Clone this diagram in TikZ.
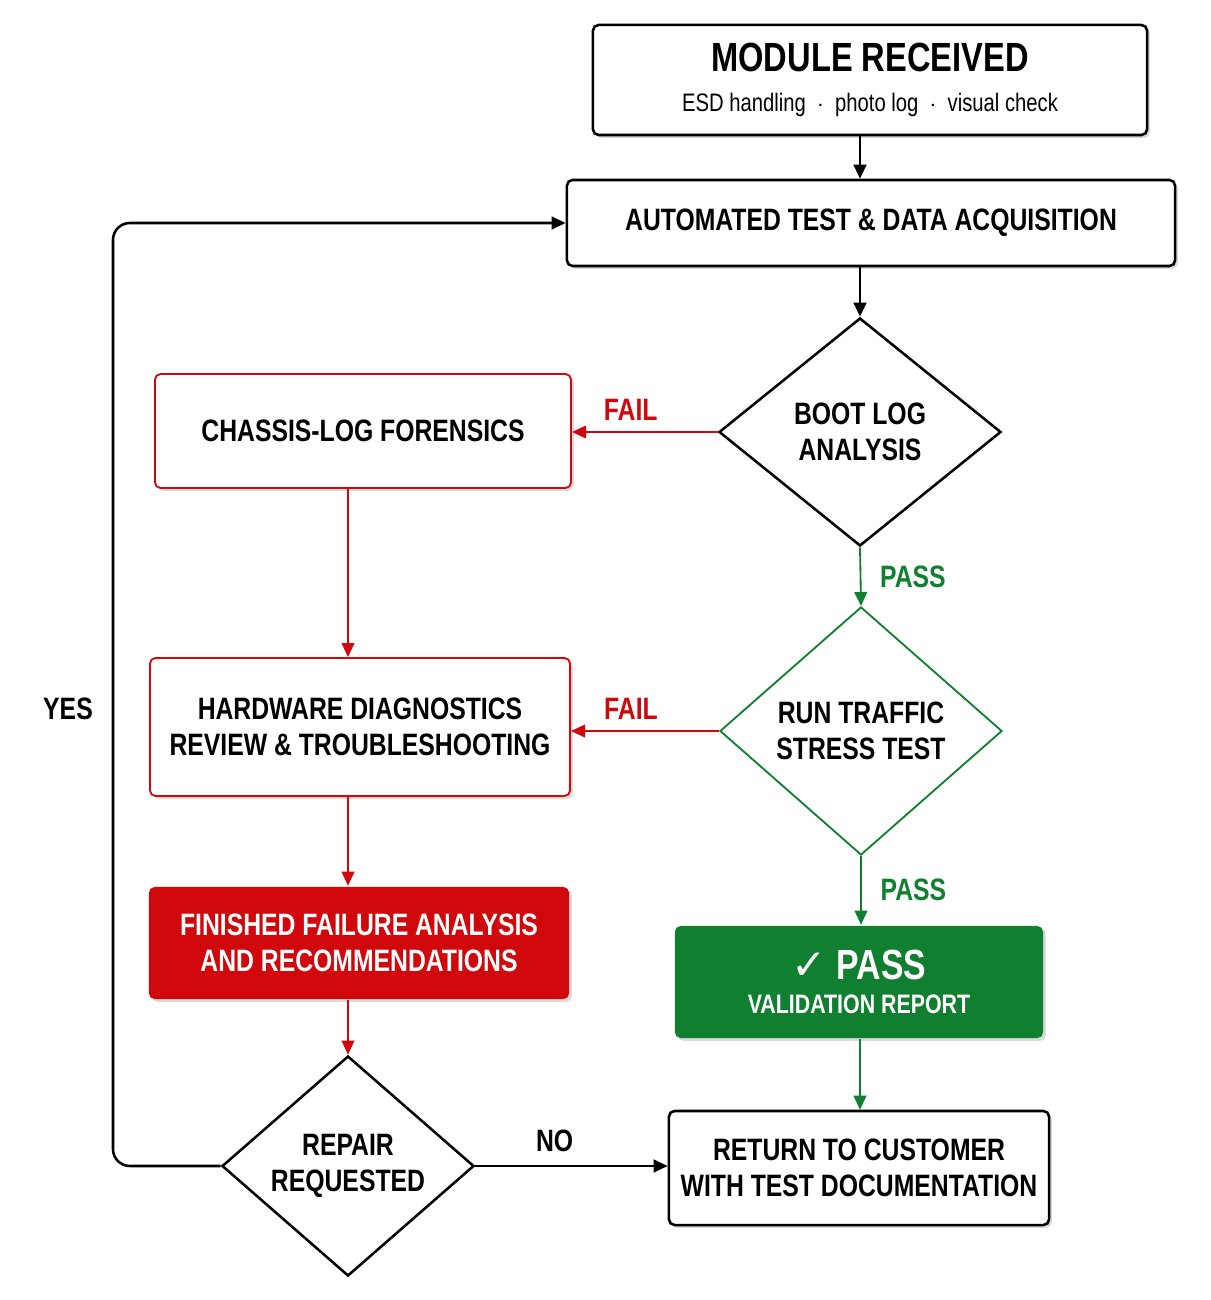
\documentclass[tikz,border=0pt]{standalone}
\usepackage{fontspec}
\setmainfont{Liberation Sans}[FakeStretch=0.8]
\newfontfamily\symfont{DejaVu Sans}
\usetikzlibrary{shapes.geometric,arrows.meta,shadows}
\definecolor{failred}{RGB}{208,8,12}
\definecolor{passgreen}{RGB}{16,128,48}
\tikzset{
  box/.style={draw=black,line width=1.8pt,rounded corners=4pt,fill=white,align=center,
    drop shadow={opacity=.3,shadow xshift=2pt,shadow yshift=-2pt},
    font=\bfseries\fontsize{22}{26}\selectfont},
  redbox/.style={box,draw=failred,line width=1.3pt},
  filledbox/.style={box,draw=none,text=white},
  dec/.style={shape=diamond,draw=black,line width=1.8pt,fill=white,align=center,inner sep=0pt,
    font=\bfseries\fontsize{22}{26}\selectfont},
  flow/.style={line width=1.8pt,-{Triangle[length=10pt,width=9pt]}},
  redflow/.style={flow,draw=failred,line width=1.3pt,-{Triangle[length=10pt,width=9pt]},color=failred},
  greenflow/.style={flow,color=passgreen,line width=1.3pt},
  lbl/.style={font=\bfseries\fontsize{22}{26}\selectfont}
}
\begin{document}
\begin{tikzpicture}[x=0.025cm,y=-0.025cm]
\useasboundingbox (0,0) rectangle (1210,1300);

% top of the flow
\node[box,minimum width=13.85cm,minimum height=2.75cm] (recv) at (870,80)
  {{\fontsize{29}{32}\selectfont MODULE RECEIVED}\\[2pt]
   {\mdseries\fontsize{18}{20}\selectfont ESD handling \ $\cdot$ \ photo log \ $\cdot$ \ visual check}};
\node[box,minimum width=15.2cm,minimum height=2.15cm] (auto) at (871,223) {AUTOMATED TEST \& DATA ACQUISITION};

% decisions
\node[dec,minimum width=7.05cm,minimum height=5.7cm] (boot) at (860,432) {BOOT LOG\\ANALYSIS};
\node[dec,draw=passgreen,line width=1.3pt,minimum width=7.05cm,minimum height=6.2cm] (traffic) at (861,731) {RUN TRAFFIC\\STRESS TEST};
\node[dec,minimum width=6.3cm,minimum height=5.5cm] (repair) at (348,1166) {REPAIR\\REQUESTED};

% fail side
\node[redbox,minimum width=10.4cm,minimum height=2.85cm] (chassis) at (363,431) {CHASSIS-LOG FORENSICS};
\node[redbox,minimum width=10.5cm,minimum height=3.45cm] (hw) at (360,727) {HARDWARE DIAGNOSTICS\\REVIEW \& TROUBLESHOOTING};
\node[filledbox,fill=failred,minimum width=10.5cm,minimum height=2.8cm] (fa) at (359,943) {FINISHED FAILURE ANALYSIS\\AND RECOMMENDATIONS};

% pass side
\node[filledbox,fill=passgreen,minimum width=9.2cm,minimum height=2.8cm] (passrep) at (859,982)
  {{\fontsize{30}{34}\selectfont{\symfont ✓} PASS}\\[-2pt]{\fontsize{19}{22}\selectfont VALIDATION REPORT}};
\node[box,minimum width=9.5cm,minimum height=2.85cm] (ret) at (859,1168) {RETURN TO CUSTOMER\\WITH TEST DOCUMENTATION};

% connectors
\draw[flow] (recv.south -| 860,0) -- (auto.north -| 860,0);
\draw[flow] (auto.south -| boot.north) -- (boot.north);
\draw[redflow] (boot.west) -- (boot.west -| chassis.east) node[midway,above=4pt,xshift=-10pt,lbl,text=failred] {FAIL};
\draw[greenflow] (boot.south) -- (traffic.north) node[midway,right=10pt,lbl,text=passgreen] {PASS};
\draw[redflow] (traffic.west) -- (traffic.west -| hw.east) node[midway,above=4pt,xshift=-10pt,lbl,text=failred] {FAIL};
\draw[greenflow] (traffic.south) -- (passrep.north -| traffic.south) node[midway,right=10pt,lbl,text=passgreen] {PASS};
\draw[greenflow] (passrep.south -| 860,0) -- (ret.north -| 860,0);
\draw[redflow] (chassis.south -| repair.north) -- (hw.north -| repair.north);
\draw[redflow] (hw.south -| repair.north) -- (fa.north -| repair.north);
\draw[redflow] (fa.south -| repair.north) -- (repair.north);
\draw[flow] (repair.east) -- (repair.east -| ret.west) node[midway,above=6pt,xshift=-12pt,lbl] {NO};
\draw[flow,rounded corners=12pt] (repair.west) -| (113,600) |- (auto.west);
\node[lbl] (yes) at (68,709) {YES};
\end{tikzpicture}
\end{document}
